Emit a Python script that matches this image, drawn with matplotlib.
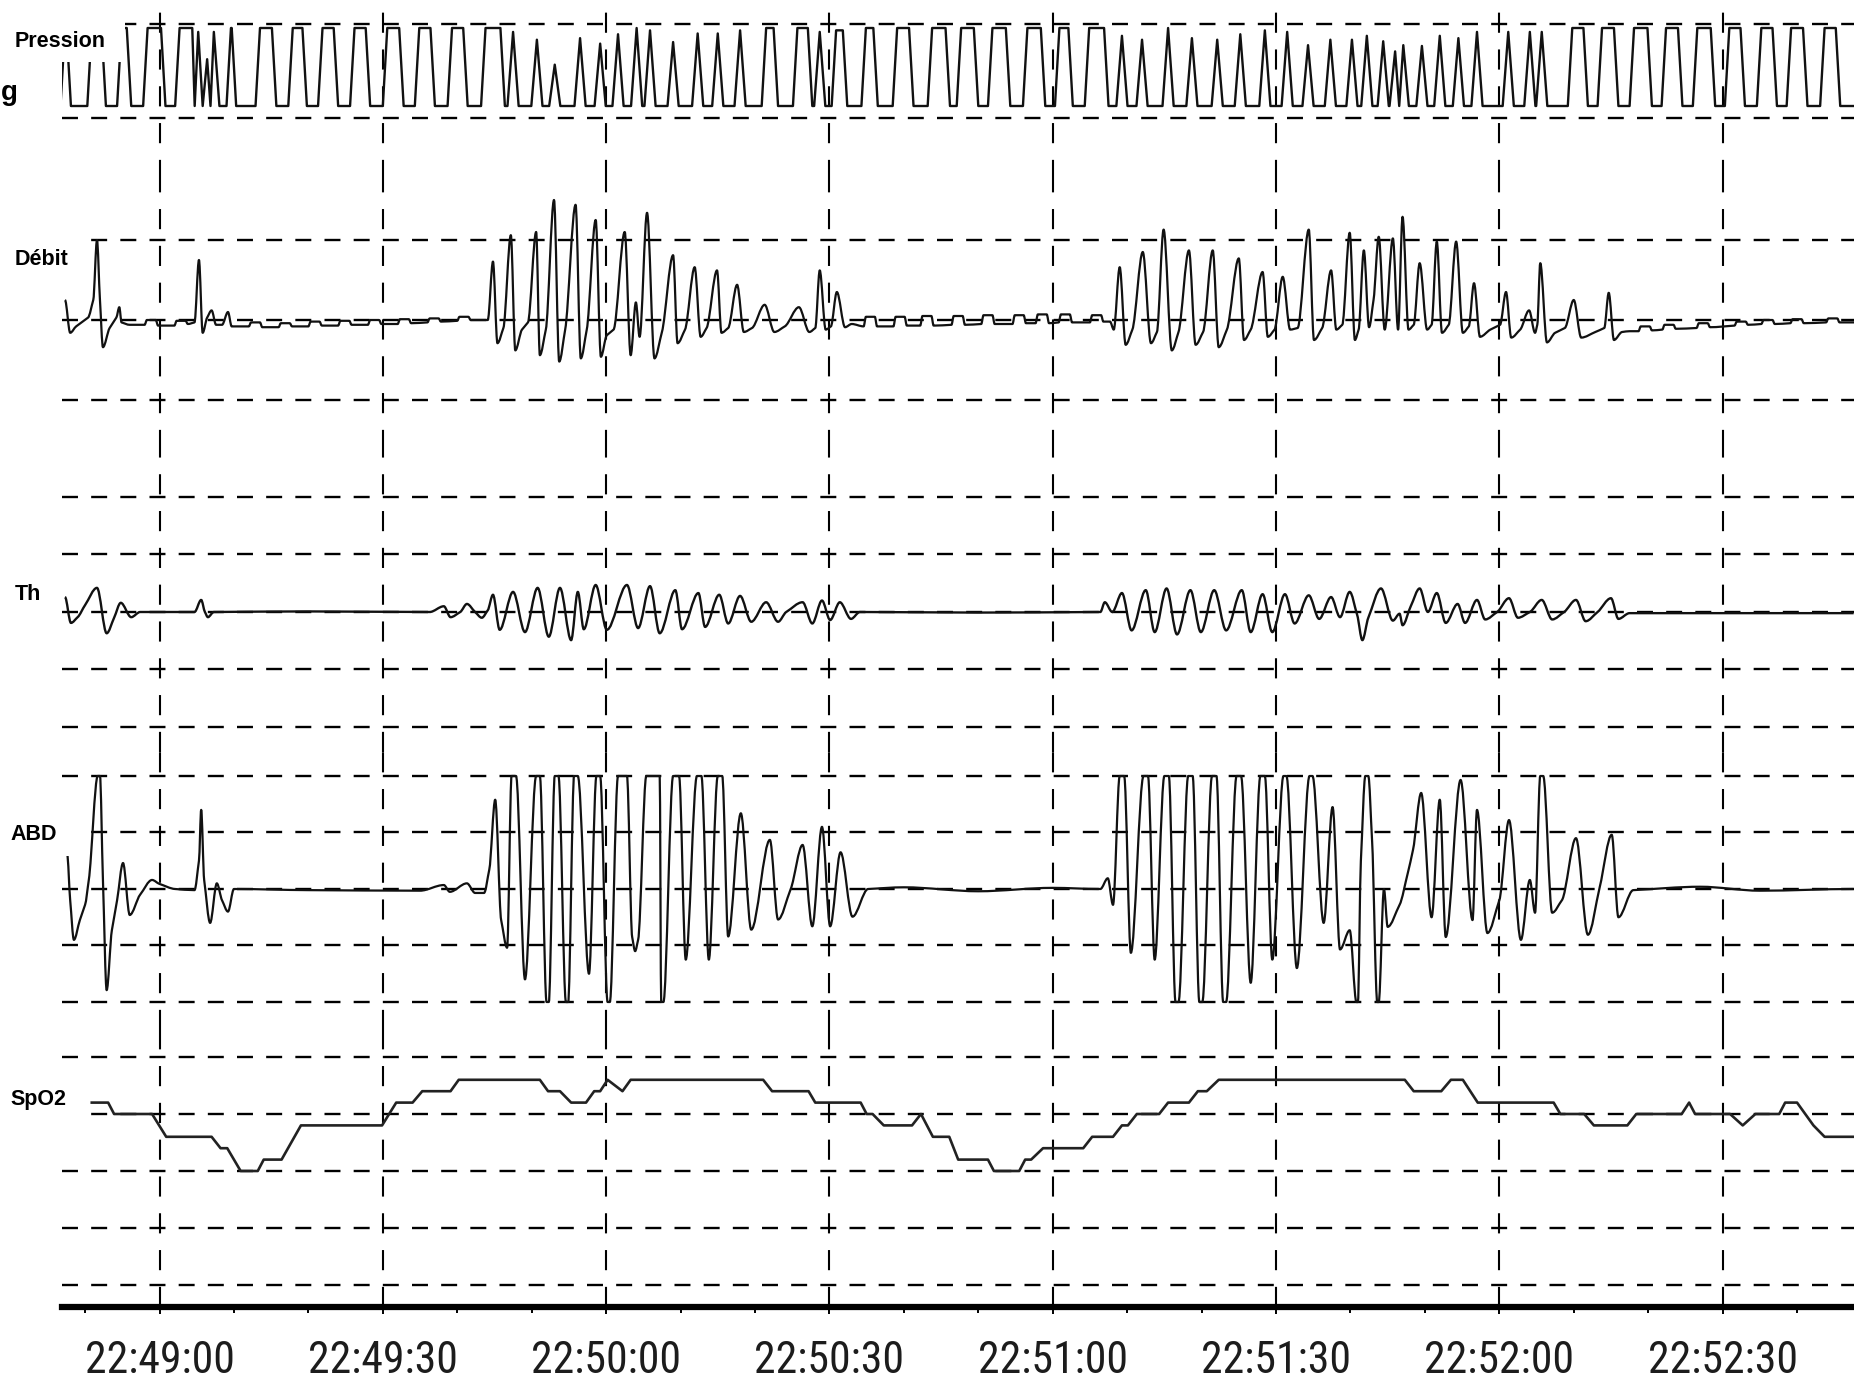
import matplotlib
matplotlib.use("Agg")
import matplotlib.pyplot as plt
from matplotlib import font_manager
from matplotlib.font_manager import FontProperties
from matplotlib.patches import Rectangle, PathPatch
from matplotlib.path import Path
from matplotlib.textpath import TextPath
import numpy as np

plt.rcParams['lines.scale_dashes'] = False
plt.rcParams['font.family'] = ['Liberation Sans', 'DejaVu Sans']

# ------------------------------------------------------------------ data
# all times in seconds relative to 22:49:00
tick_seconds = [0, 30, 60, 90, 120, 150, 180, 210]
tick_labels = ["22:49:00", "22:49:30", "22:50:00", "22:50:30",
               "22:51:00", "22:51:30", "22:52:00", "22:52:30"]
minor_seconds = [-10, 10, 20, 40, 50, 70, 80, 100, 110, 130, 140,
                 160, 170, 190, 200, 220]
channel_names = ["Pression", "Débit", "Th", "ABD", "SpO2"]

# Pression: ventilator cycles (onset, offset, level: 0 = EPAP, 1 = IPAP)
pression_on = [-13.0, -9.4, -5.4, -1.9, 2.4, 5.2, 6.4, 7.3, 9.3, 13.2, 17.6, 21.6,
               25.9, 30.3, 34.6, 39.0, 43.5, 47.5, 50.7, 53.1, 56.5, 59.2, 61.6,
               64.1, 65.9, 69.0, 72.3, 75.0, 78.0, 81.2, 85.4, 88.7, 90.6, 94.6,
               98.8, 103.5, 107.4, 111.6, 116.3, 120.6, 124.6, 129.3, 132.0, 135.5,
               138.7, 142.1, 145.2, 148.5, 151.5, 154.3, 157.3, 160.2, 162.2, 164.4,
               166.0, 167.1, 169.6, 172.0, 174.5, 177.0, 181.2, 184.1, 185.7, 189.5,
               193.5, 197.8, 202.1, 206.3, 210.6, 214.9, 218.9, 223.4]
pression_off = [-12.2, -7.5, -4.1, 0.5, 4.7, 5.2, 6.4, 7.3, 10.0, 15.4, 19.5, 23.7,
                28.0, 32.5, 36.7, 41.1, 46.1, 47.5, 50.7, 53.1, 56.5, 59.2, 61.6,
                64.1, 65.9, 69.0, 72.3, 75.0, 78.0, 82.8, 87.4, 88.7, 92.1, 96.2,
                101.0, 105.9, 109.7, 114.0, 118.7, 122.4, 127.2, 129.3, 132.0, 135.5,
                138.7, 142.1, 145.2, 148.5, 151.5, 154.3, 157.3, 160.2, 162.2, 164.4,
                166.0, 167.1, 169.6, 172.0, 174.5, 177.0, 181.2, 184.1, 185.7, 191.6,
                195.7, 200.2, 204.3, 208.7, 212.7, 217.0, 221.1, 225.5]
pression_level = [1.0, 1.0, 1.0, 1.0, 1.0, 0.95, 0.6, 0.95, 1.0, 1.0, 1.0, 1.0,
                  1.0, 1.0, 1.0, 1.0, 1.0, 0.95, 0.85, 0.53, 0.87, 0.80, 0.92,
                  1.0, 0.97, 0.82, 0.93, 0.93, 0.97, 1.0, 1.0, 0.95, 0.97, 1.0,
                  1.0, 1.0, 1.0, 1.0, 1.0, 1.0, 1.0, 0.9, 0.85, 1.0,
                  0.87, 0.85, 0.92, 0.97, 0.95, 0.78, 0.85, 0.85, 0.9, 0.83,
                  0.7, 0.78, 0.77, 0.9, 0.87, 0.95, 0.95, 0.95, 0.95, 1.0,
                  1.0, 1.0, 1.0, 1.0, 1.0, 1.0, 1.0, 1.0]

# Débit (airflow), relative units
debit_t = [-12.7, -12.0, -11.2, -9.6, -8.9, -8.4, -8.0, -7.6, -6.7, -5.8, -5.4, -5.1, -4.0,
           -2.0, -1.7, -0.5, -0.2, 2.0, 2.3, 3.5, 3.8,
           4.7, 5.3, 5.8, 6.4, 7.0, 7.6, 8.4, 9.2, 9.7,
           10.5, 12.0, 12.3, 13.5, 13.8, 16.0, 16.3, 17.5, 17.8, 20.0, 20.3, 21.5, 21.8,
           24.0, 24.3, 25.5, 25.8, 28.0, 28.3, 29.5, 29.8, 32.0, 32.3, 33.5, 33.8,
           36.0, 36.3, 37.5, 37.8, 40.0, 40.3, 41.5, 41.8, 43.5,
           44.1, 44.8, 45.4, 46.2, 47.2, 47.8, 48.7, 49.5, 50.6, 51.1, 51.9, 53.0, 53.7,
           54.5, 55.9, 56.6, 57.4, 58.6, 59.3, 60.1, 61.0, 62.5, 63.3, 64.0, 64.5, 65.5,
           66.5, 67.5, 69.0, 69.6, 70.6, 71.9, 72.7, 73.5, 74.9, 75.5, 76.4, 77.6, 78.5,
           79.6, 81.3, 82.6, 84.0, 85.9, 87.3, 88.1, 88.7, 89.5, 90.2, 91.0, 92.1, 93.0,
           94.6, 94.9, 96.1, 96.4, 98.6, 98.9, 100.1, 100.4, 102.2, 102.5, 103.7, 104.0,
           106.4, 106.7, 107.9, 108.2, 110.4, 110.7, 111.9, 112.2, 114.6, 114.9, 116.1,
           116.4, 117.7, 118.0, 119.2, 119.5, 120.8, 121.1, 122.3, 122.6, 125.0, 125.3,
           126.5, 126.8,
           127.7, 128.2, 129.0, 129.8, 130.7, 132.1, 133.2, 134.0, 134.9, 136.0, 136.9,
           138.3, 139.2, 140.2, 141.5, 142.3, 143.4, 145.0, 145.7, 146.6, 148.2, 148.9,
           149.8, 150.9, 151.9, 152.9, 154.4, 155.1, 156.2, 157.4, 158.1, 158.9, 159.9,
           160.6, 161.1, 161.8, 162.5, 163.1, 163.8, 164.6, 165.7, 166.4, 167.0, 167.8,
           168.5, 169.3, 170.3, 170.9, 171.6, 172.3, 173.2, 174.2, 175.1, 175.9, 176.6,
           177.4, 178.8, 180.1, 180.9, 181.6, 182.8, 184.0, 184.8, 185.1, 185.5, 186.4,
           187.5, 188.8, 190.0, 191.0, 192.9, 194.1, 194.7, 195.4, 196.5,
           197.5, 198.7, 199.0, 200.2, 200.5, 201.9, 202.2, 203.4, 203.7, 206.5, 206.8,
           208.0, 208.3, 211.6, 211.9, 213.1, 213.4, 215.2, 215.5, 216.7, 217.0, 219.1,
           219.4, 220.6, 220.9, 223.9, 224.2, 225.4, 225.7, 227.7]
debit_v = [0.25, -0.16, -0.08, 0.03, 0.25, 1.0, 0.25, -0.34, -0.1, 0.03, 0.16, -0.03, -0.06,
           -0.06, 0.0, 0.0, -0.07, -0.07, -0.01, -0.01, -0.05,
           -0.03, 0.75, -0.16, 0.03, 0.12, -0.06, -0.06, 0.1, -0.08,
           -0.08, -0.08, -0.03, -0.03, -0.09, -0.09, -0.04, -0.04, -0.08, -0.08, -0.02, -0.02, -0.07,
           -0.07, -0.01, -0.01, -0.06, -0.06, 0.0, 0.0, -0.05, -0.05, 0.01, 0.01, -0.04,
           -0.03, 0.02, 0.02, -0.02, -0.01, 0.04, 0.04, 0.0, 0.0,
           0.0, 0.73, -0.29, -0.1, 1.06, -0.38, -0.12, -0.03, 1.1, -0.44, -0.12, 1.5, -0.52,
           -0.12, 1.44, -0.48, -0.12, 1.25, -0.46, -0.19, -0.12, 1.1, -0.44, 0.22, -0.21, 1.34,
           -0.48, -0.15, 0.81, -0.29, -0.12, 0.66, -0.21, -0.1, 0.62, -0.16, -0.1, 0.44, -0.15,
           -0.1, 0.19, -0.15, -0.08, 0.16, -0.15, -0.1, 0.62, -0.12, -0.08, 0.35, -0.09, -0.05,
           -0.08, 0.04, 0.04, -0.08, -0.08, 0.04, 0.04, -0.07, -0.07, 0.05, 0.05, -0.07,
           -0.06, 0.05, 0.05, -0.06, -0.05, 0.06, 0.06, -0.05, -0.05, 0.06, 0.06,
           -0.04, -0.04, 0.07, 0.07, -0.04, -0.03, 0.07, 0.07, -0.03, -0.03, 0.06,
           0.06, -0.02,
           -0.02, -0.12, 0.66, -0.31, -0.12, 0.85, -0.29, -0.15, 1.13, -0.38, -0.15,
           0.87, -0.31, -0.15, 0.87, -0.34, -0.12, 0.77, -0.25, -0.12, 0.6, -0.21,
           -0.12, 0.54, -0.12, -0.1, 1.13, -0.25, -0.1, 0.62, -0.12, -0.06, 1.09,
           -0.25, -0.12, 0.87, -0.09, 0.25, 1.04, -0.12, 1.02, -0.12, 1.29, -0.12,
           -0.06, 0.71, -0.12, -0.06, 0.98, -0.16, -0.06, 0.98, -0.16, -0.08, 0.46,
           -0.21, -0.12, -0.06, 0.35, -0.22, -0.12, 0.12, -0.16, -0.06, 0.71, -0.28,
           -0.16, -0.1, 0.25, -0.22, -0.15, -0.1, 0.34, -0.25, -0.15,
           -0.14, -0.14, -0.08, -0.08, -0.13, -0.12, -0.06, -0.06, -0.11, -0.10, -0.04,
           -0.04, -0.09, -0.07, -0.02, -0.02, -0.06, -0.05, 0.0, 0.0, -0.05, -0.04,
           0.01, 0.01, -0.04, -0.03, 0.02, 0.02, -0.03, -0.03]

# Th (thoracic belt), relative units
th_t = [-12.7, -11.9, -11.0, -10.0, -8.4, -7.1, -6.1, -5.2, -3.8, -2.6, 4.7, 5.6, 6.1, 6.5,
        7.3, 20.0, 36.3, 38.2, 39.1, 40.4, 41.3, 42.4, 43.3, 44.1, 44.8, 45.7, 47.5, 49.1,
        50.8, 52.3, 53.8, 55.3, 56.2, 57.0, 58.6, 60.1, 62.8, 64.3, 65.9, 67.2, 69.3, 70.2,
        72.4, 73.3, 75.2, 76.4, 78.0, 79.5, 81.5, 83.1, 84.2, 86.4, 87.7, 89.0, 90.1, 91.4,
        92.9, 94.1, 110.0, 126.4, 127.0, 128.0, 129.3, 130.6, 132.5, 133.7, 135.3, 136.7,
        138.5, 139.9, 141.7, 143.3, 145.4, 146.6, 148.2, 149.5, 151.2, 152.5, 154.4, 155.8,
        157.4, 158.6, 159.9, 160.9, 161.6, 162.4, 164.1, 165.7, 166.6, 167.0, 168.1, 169.3,
        170.4, 171.6, 172.8, 174.4, 175.4, 177.0, 178.1, 179.7, 181.3, 182.5, 184.1, 185.7,
        187.1, 188.7, 190.3, 191.6, 193.2, 195.0, 196.0, 197.5, 227.6]
th_v = [0.26, -0.19, -0.09, 0.12, 0.42, -0.37, -0.1, 0.16, -0.09, 0.0, 0.0, 0.21, 0.0, -0.09,
        0.0, 0.01, 0.0, 0.1, -0.09, 0.0, 0.14, 0.0, -0.1, 0.03, 0.3, -0.31, 0.35, -0.35,
        0.42, -0.43, 0.42, -0.49, 0.35, -0.3, 0.47, -0.31, 0.47, -0.28, 0.45, -0.37, 0.38, -0.3,
        0.33, -0.26, 0.3, -0.2, 0.28, -0.17, 0.17, -0.17, 0.0, 0.17, -0.2, 0.2, -0.14, 0.17,
        -0.12, 0.0, -0.01, 0.0, 0.17, 0.0, 0.33, -0.32, 0.38, -0.35, 0.41, -0.39,
        0.38, -0.35, 0.38, -0.32, 0.38, -0.35, 0.31, -0.35, 0.31, -0.2, 0.29, -0.12,
        0.26, -0.09, 0.35, -0.05, -0.49, -0.1, 0.41, -0.15, -0.03, -0.23, 0.1, 0.41,
        0.0, 0.33, -0.19, 0.14, -0.19, 0.21, -0.13, 0.0, 0.24, -0.1, 0.0, 0.21,
        -0.13, 0.0, 0.21, -0.16, 0.0, 0.24, -0.12, -0.02, -0.02]

# ABD (abdominal belt), relative units, saturates at +/-2
abd_t = [-12.4, -12.0, -11.5, -10.7, -10.0, -9.5, -8.3, -8.0, -7.6, -7.1, -6.4, -5.7, -4.9,
         -4.0, -2.6, -1.0, 0.0, 2.1, 4.7, 5.3, 5.6, 6.0, 6.8, 7.7, 8.4, 9.2, 10.0, 20.0,
         35.0, 38.2, 39.0, 41.3, 42.4, 43.6, 44.3, 45.1, 45.9, 46.7, 47.3, 47.9, 49.1,
         50.6, 51.1, 52.0, 52.3, 53.1, 53.6, 54.6, 54.9, 55.7, 56.2, 57.7, 58.7, 59.2,
         60.2, 60.5, 61.6, 62.8, 63.5, 63.9, 64.3, 65.4, 67.2, 67.4, 67.7, 69.0, 69.8,
         70.7, 72.2, 72.8, 73.8, 75.0, 75.6, 76.4, 78.1, 79.5, 82.0, 83.1, 84.8, 86.4,
         87.7, 89.0, 90.1, 91.5, 93.1, 95.2, 100.0, 110.0, 120.0,
         126.4, 127.4, 128.1, 129.0, 129.6, 130.5, 132.2, 132.8, 133.7, 135.0, 135.6,
         136.5, 136.9, 138.2, 138.8, 139.7, 140.1, 141.4, 142.0, 142.9, 143.3, 144.7,
         145.3, 146.6, 147.9, 148.5, 149.5, 151.0, 151.4, 152.8, 154.5, 154.9, 156.4,
         157.6, 158.6, 159.9, 160.8, 161.0, 161.4, 162.0, 162.4, 162.9, 163.6, 163.8,
         164.5, 165.0, 166.6, 167.7, 168.4, 169.5, 170.9, 172.0, 172.8, 174.8, 176.4,
         177.0, 178.4, 180.0, 181.3, 182.9, 184.1, 184.8, 185.5, 185.9, 187.1, 188.4,
         190.3, 191.9, 193.5, 195.1, 196.0, 198.0, 207.0, 215.0, 227.6]
abd_v = [0.6, -0.2, -0.9, -0.55, -0.28, 0.16, 2.0, 2.0, 0.16, -1.79, -0.73, -0.2, 0.46,
         -0.46, -0.1, 0.16, 0.09, 0.0, -0.02, 0.5, 1.4, 0.16, -0.6, 0.1, -0.2, -0.4, 0.0, -0.02,
         -0.03, 0.07, -0.05, 0.1, -0.07, -0.07, 0.34, 1.58, -0.55, -1.04, 2.0, 2.0, -1.6,
         2.0, 2.0, -2.0, -2.0, 2.0, 2.0, -2.0, -2.0, 2.0, 2.0, -1.5, 2.0, 2.0,
         -2.0, -2.0, 2.0, 2.0, -0.85, -1.1, -0.9, 2.0, 2.0, -2.0, -2.0, 2.0, 2.0,
         -1.25, 2.0, 2.0, -1.25, 2.0, 2.0, -0.84, 1.34, -0.72, 0.87, -0.54, 0.0, 0.78,
         -0.66, 1.1, -0.66, 0.65, -0.49, 0.0, 0.03, -0.04, 0.02,
         0.0, 0.19, -0.28, 2.0, 2.0, -1.13, 2.0, 2.0, -1.25, 2.0, 2.0,
         -2.0, -2.0, 2.0, 2.0, -2.0, -2.0, 2.0, 2.0, -2.0, -2.0, 2.0,
         2.0, -1.66, 2.0, 2.0, -1.25, 2.0, 2.0, -1.4, 2.0, 2.0, -0.6,
         1.45, -1.07, -0.73, -2.0, -2.0, 0.5, 2.0, 2.0, 0.87, -2.0, -2.0,
         0.0, -0.67, -0.28, 0.28, 0.69, 1.7, -0.5, 1.58, -0.85, 1.93, -0.55,
         1.4, -0.78, -0.2, 1.22, -0.9, 0.16, -0.42, 2.0, 2.0, -0.42, -0.2,
         0.9, -0.81, 0.04, 0.96, -0.5, -0.02, 0.04, -0.03, 0.0]

# SpO2 (%)
spo2_t = [-9.1, -6.9, -6.1, -1.0, 0.9, 7.0, 8.2, 9.1, 10.9, 13.2, 14.0, 16.4, 19.0, 29.9,
          31.8, 34.0, 35.3, 39.1, 40.2, 51.1, 52.2, 53.8, 55.3, 57.3, 58.4, 59.2, 60.2,
          62.2, 63.3, 81.1, 82.3, 87.2, 88.1, 94.2, 95.0, 95.8, 97.3, 101.1, 102.3, 103.9,
          106.1, 107.3, 111.3, 112.1, 115.5, 116.3, 117.1, 118.7, 124.1, 125.3, 128.1,
          129.3, 130.1, 131.3, 134.3, 135.5, 138.3, 139.5, 140.7, 142.3, 167.3, 168.5,
          172.2, 173.5, 175.1, 177.1, 187.3, 188.2, 191.4, 192.7, 197.2, 198.4, 204.5,
          205.5, 206.3, 211.0, 212.7, 214.4, 217.6, 218.4, 220.0, 222.2, 223.7, 227.6]
spo2_v = [95, 95, 94, 94, 92, 92, 91, 91, 89, 89, 90, 90, 93, 93,
          95, 95, 96, 96, 97, 97, 96, 96, 95, 95, 96, 96, 97,
          96, 97, 97, 96, 96, 95, 95, 94, 94, 93, 93, 94, 92,
          92, 90, 90, 89, 89, 90, 90, 91, 91, 92, 92,
          93, 93, 94, 94, 95, 95, 96, 96, 97, 97, 96,
          96, 97, 97, 95, 95, 94, 94, 93, 93, 94, 94,
          95, 94, 94, 93, 94, 94, 95, 95, 93, 92, 92]

# ------------------------------------------------------------------ layout
W, H, DPI = 1854, 1384, 100
X0_PX = 62
T_MIN, T_MAX = -13.1, 227.65
AXIS_ROW = 1307
bands = {"Pression": (8, 180), "Débit": (180, 450), "Th": (450, 752),
         "ABD": (752, 1030), "SpO2": (1030, AXIS_ROW)}
# (pixel row of value 0, pixels per unit)
row_scale = {"Pression": (106, 78), "Débit": (320, 80), "Th": (612, 57.5),
             "ABD": (889, 56.5), "SpO2": (1114 + 94 * 11.4, 11.4)}
grid_rows = {"Pression": [24, 118], "Débit": [240, 320, 400],
             "Th": [497, 554.5, 612, 669.5, 727],
             "ABD": [776, 832.5, 889, 945.5, 1002],
             "SpO2": [1057, 1114, 1171, 1228, 1285]}
label_pos = {"Pression": (15, 47), "Débit": (15, 265), "Th": (15, 600),
             "ABD": (10, 840), "SpO2": (10, 1105)}
white_boxes = [(0, 0, 125, 62), (0, 200, 90, 296), (0, 800, 78, 856), (0, 1080, 90, 1118)]
TICK_LABEL_WIDTH_PX = 158
TICK_LABEL_CAP_PX = 32
TICK_LABEL_BASELINE_ROW = 1373
MAJOR_TICK_LEN = 10

INK = "#111111"
H_DASH = (0, (11.5, 9.5))
V_DASH = (0, (14.5, 12.0))


# a condensed face for the time labels if one is installed
def pick_condensed():
    best = None
    for f in font_manager.fontManager.ttflist:
        tag = (f.name + " " + f.fname).lower()
        if f.style != "normal" or f.weight not in (400, "normal", "regular"):
            continue
        if "mono" in tag:
            continue
        if "narrow" in tag or "condensed" in tag:
            rank = 0 if "liberation" in tag else (1 if "roboto" in tag else 2)
            if "semi" in tag or "extra" in tag:
                rank += 3
            if best is None or rank < best[0]:
                best = (rank, f.fname)
    return best[1] if best else None


cond_file = pick_condensed()
probe = (FontProperties(fname=cond_file, size=100) if cond_file
         else FontProperties(family="Liberation Sans", size=100))
w100 = TextPath((0, 0), tick_labels[0], prop=probe).get_extents().width
h100 = TextPath((0, 0), "0", prop=probe).get_extents().height
size_w = 100 * (TICK_LABEL_WIDTH_PX * 72.0 / DPI) / w100
size_h = 100 * (TICK_LABEL_CAP_PX * 72.0 / DPI) / h100
tick_size = min(size_w, size_h)
tick_font = (FontProperties(fname=cond_file, size=tick_size) if cond_file
             else FontProperties(family="Liberation Sans", size=tick_size))


def pressure_vertices(on, off, level, t_end):
    ts, vs = [], []
    for a, b, p in zip(on, off, level):
        if b > a:
            r = min(0.3, (b - a) / 2)
            seg = [(a - r, 0.0), (a + r, p), (b - r, p), (b + r, 0.0)]
        else:
            seg = [(a - 0.75, 0.0), (a, p), (a + 0.75, 0.0)]
        if ts and seg[0][0] < ts[-1]:
            ts[-1] = 0.5 * (seg[0][0] + ts[-1])
            seg = seg[1:]
        for t, v in seg:
            ts.append(t)
            vs.append(v)
    ts.append(t_end)
    vs.append(0.0)
    return ts, vs


def smooth_trace(ax, t, v, **kw):
    """Draw the read vertices joined by monotone cubic segments."""
    t = np.asarray(t, float)
    v = np.asarray(v, float)
    n = len(t)
    sec = np.diff(v) / np.diff(t)
    m = np.zeros(n)
    for i in range(1, n - 1):
        a, b = sec[i - 1], sec[i]
        if a * b > 0:
            m[i] = np.sign(a) * min(abs(a), abs(b), abs(0.5 * (a + b)))
    verts = [(t[0], v[0])]
    codes = [Path.MOVETO]
    for i in range(n - 1):
        h = t[i + 1] - t[i]
        verts += [(t[i] + h / 3, v[i] + m[i] * h / 3),
                  (t[i + 1] - h / 3, v[i + 1] - m[i + 1] * h / 3),
                  (t[i + 1], v[i + 1])]
        codes += [Path.CURVE4] * 3
    ax.add_patch(PathPatch(Path(verts, codes), fill=False, **kw))


fig = plt.figure(figsize=(W / DPI, H / DPI), dpi=DPI)
fig.patch.set_facecolor("white")

axes = {}
for name in channel_names:
    top, bot = bands[name]
    ax = fig.add_axes([X0_PX / W, 1 - bot / H, 1 - X0_PX / W, (bot - top) / H])
    r0, g = row_scale[name]
    ax.set_xlim(T_MIN, T_MAX)
    ax.set_ylim((r0 - bot) / g, (r0 - top) / g)
    ax.set_yticks([(r0 - r) / g for r in grid_rows[name]])
    ax.set_xticks(tick_seconds)
    ax.yaxis.grid(True, color="black", lw=1.7, ls=H_DASH)
    ax.xaxis.grid(True, color="black", lw=1.5, ls=V_DASH)
    ax.set_axisbelow(True)
    ax.tick_params(left=False, labelleft=False, bottom=False, labelbottom=False)
    for s in ax.spines.values():
        s.set_visible(False)
    ax.patch.set_alpha(0)
    axes[name] = ax

p_t, p_v = pressure_vertices(pression_on, pression_off, pression_level, T_MAX)
axes["Pression"].plot(p_t, p_v, color=INK, lw=1.7, solid_joinstyle="round")
smooth_trace(axes["Débit"], debit_t, debit_v, edgecolor=INK, lw=1.6, joinstyle="round", zorder=2)
smooth_trace(axes["Th"], th_t, th_v, edgecolor=INK, lw=1.7, joinstyle="round", zorder=2)
smooth_trace(axes["ABD"], abd_t, abd_v, edgecolor=INK, lw=1.6, joinstyle="round", zorder=2)
axes["SpO2"].plot(spo2_t, spo2_v, color="#222222", lw=1.9, solid_joinstyle="round")

bx = axes["SpO2"]
bx.spines["bottom"].set_visible(True)
bx.spines["bottom"].set_linewidth(4.5)
bx.spines["bottom"].set_color("black")
bx.set_xticks(tick_seconds)
bx.set_xticklabels(tick_labels)
bx.set_xticks(minor_seconds, minor=True)
# baseline of the labels: axis row + outward half tick + pad (in points)
pad_pt = (TICK_LABEL_BASELINE_ROW - AXIS_ROW) * 72.0 / DPI - MAJOR_TICK_LEN / 2
bx.tick_params(axis="x", which="major", bottom=True, labelbottom=True, direction="inout",
               length=MAJOR_TICK_LEN, width=1.4, pad=pad_pt, labelcolor="#1c1c1c")
bx.tick_params(axis="x", which="minor", bottom=True, direction="out", length=4.5, width=1.4)
for lab in bx.get_xticklabels():
    lab.set_fontproperties(tick_font)
    lab.set_verticalalignment("baseline")

for (x0, y0, x1, y1) in white_boxes:
    fig.add_artist(Rectangle((x0 / W, 1 - y1 / H), (x1 - x0) / W, (y1 - y0) / H,
                             transform=fig.transFigure, facecolor="white",
                             edgecolor="none", zorder=5))

for name in channel_names:
    x, yb = label_pos[name]
    fig.text(x / W, 1 - yb / H, name, fontsize=15.5, fontweight="bold",
             family="Liberation Sans", ha="left", va="baseline", zorder=6)

# glyph fragment at the far left edge of the source figure
fig.text(1 / W, 1 - 100 / H, "g", fontsize=20, fontweight="bold",
         family="Liberation Sans", ha="left", va="baseline", zorder=6)

fig.savefig("out.png", dpi=DPI, facecolor="white")
